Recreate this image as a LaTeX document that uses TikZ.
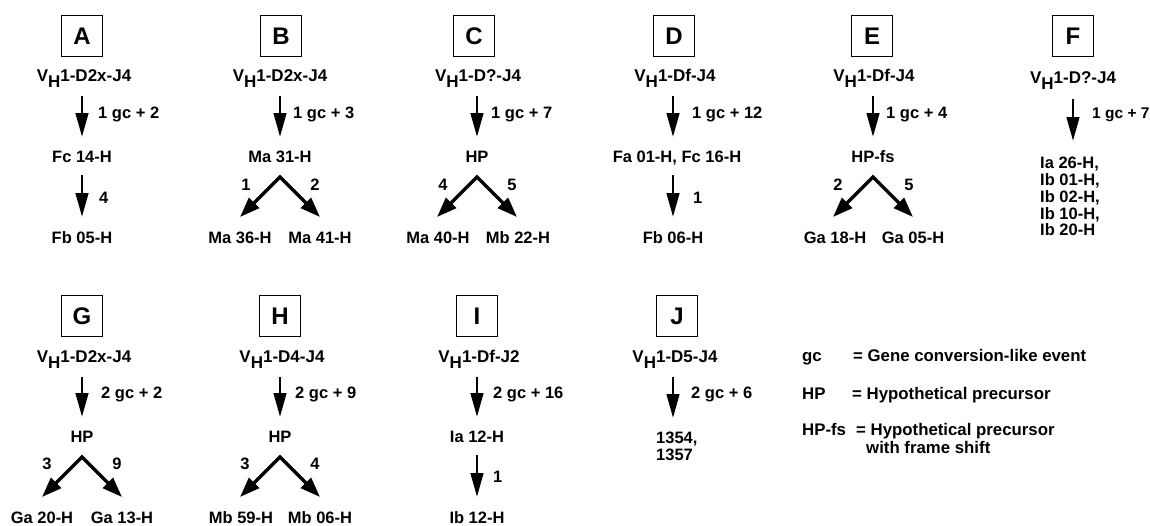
\documentclass[tikz,border=0pt]{standalone}
\usepackage{fontspec}
\setmainfont{Liberation Sans}
\usetikzlibrary{arrows.meta,calc}

% V_H gene segment label: V with a lowered H
\newcommand\vhgene[1]{{\fontsize{17}{19}\selectfont V\raisebox{-6pt}{H}#1}}

\tikzset{
  x=1pt, y=-1pt,
  txt/.style={inner sep=0pt, font=\bfseries\fontsize{16.5}{18}\selectfont,
              text height=11.5pt, text depth=0pt},
  lbl/.style={txt, anchor=west},
  num/.style={txt},
  key/.style={lbl, font=\bfseries\fontsize{16.8}{18}\selectfont},
  letterbox/.style={draw, line width=1.2pt, minimum width=41pt, minimum height=41pt,
                    inner sep=0pt, font=\bfseries\fontsize{24}{28}\selectfont},
  varrow/.style={line width=2.9pt, -{Triangle[length=24pt,width=12.5pt]}},
  varrowA/.style={varrow, shorten <=20pt, shorten >=20pt},
  varrowB/.style={varrow, shorten <=18pt, shorten >=21pt},
  split/.style={line width=3.4pt, line join=miter,
                {Triangle[length=20pt,width=14pt]}-{Triangle[length=20pt,width=14pt]}},
}

\begin{document}
\begin{tikzpicture}
\useasboundingbox (0,0) rectangle (1150,525);

% ---------------- A ----------------
\node[letterbox] (A) at (82,36) {A};
\node[txt] (a0) at (84,76) {\vhgene{1-D2x-J4}};
\node[txt] (a1) at (82,157) {Fc 14-H};
\node[txt] (a2) at (82,238) {Fb 05-H};
\draw[varrowA] (a1 |- a0) -- (a1.center);
\draw[varrowB] (a1.center) -- (a2.center);
\node[lbl] (a0l) at (98,113) {1 gc + 2};
\node[lbl] (a1l) at (99,198) {4};

% ---------------- B ----------------
\node[letterbox] (B) at (281,36) {B};
\node[txt] (b0) at (280,76) {\vhgene{1-D2x-J4}};
\node[txt] (b1) at (280,157) {Ma 31-H};
\draw[varrowA] (b0.center) -- (b1.center);
\node[lbl] (b0l) at (293,113) {1 gc + 3};
\coordinate (bA) at (280,177);
\coordinate (bL) at (240,217);
\coordinate (bR) at (320,217);
\draw[split] (bL) -- (bA) -- (bR);
\node[num] (bLl) at (246,185) {1};
\node[num] (bRl) at (315,185) {2};
\node[txt] (b2) at (240,238) {Ma 36-H};
\node[txt] (b3) at (320,238) {Ma 41-H};

% ---------------- C ----------------
\node[letterbox] (C) at (474,36) {C};
\node[txt] (c0) at (478,76) {\vhgene{1-D?-J4}};
\node[txt] (c1) at (477,157) {HP};
\draw[varrowA] (c1 |- c0) -- (c1.center);
\node[lbl] (c0l) at (491,113) {1 gc + 7};
\coordinate (cA) at (477,177);
\coordinate (cL) at (437,217);
\coordinate (cR) at (517,217);
\draw[split] (cL) -- (cA) -- (cR);
\node[num] (cLl) at (443,185) {4};
\node[num] (cRl) at (512,185) {5};
\node[txt] (c2) at (438,238) {Ma 40-H};
\node[txt] (c3) at (518,238) {Mb 22-H};

% ---------------- D ----------------
\node[letterbox] (D) at (674,36) {D};
\node[txt] (d0) at (675,76) {\vhgene{1-Df-J4}};
\node[txt] (d1) at (677,157) {Fa 01-H, Fc 16-H};
\node[txt] (d2) at (673,238) {Fb 06-H};
\draw[varrowA] (d2 |- d0) -- (d2 |- d1);
\draw[varrowB] (d2 |- d1) -- (d2.center);
\node[lbl] (d0l) at (692,113) {1 gc + 12};
\node[lbl] (d1l) at (693,198) {1};

% ---------------- E ----------------
\node[letterbox] (E) at (872,36) {E};
\node[txt] (e0) at (874,76) {\vhgene{1-Df-J4}};
\node[txt] (e1) at (873,157) {HP-fs};
\draw[varrowA] (e1 |- e0) -- (e1.center);
\node[lbl] (e0l) at (886,113) {1 gc + 4};
\coordinate (eA) at (873,177);
\coordinate (eL) at (833,217);
\coordinate (eR) at (913,217);
\draw[split] (eL) -- (eA) -- (eR);
\node[num] (eLl) at (838,185) {2};
\node[num] (eRl) at (909,185) {5};
\node[txt] (e2) at (835,238) {Ga 18-H};
\node[txt] (e3) at (913,238) {Ga 05-H};

% ---------------- F ----------------
\node[letterbox] (F) at (1073,36) {F};
\node[txt] (f0) at (1073,78) {\vhgene{1-D?-J4}};
\node[lbl] (f1) at (1040,163) {Ia 26-H,};
\node[lbl] (f2) at (1040,179.75) {Ib 01-H,};
\node[lbl] (f3) at (1040,196.5) {Ib 02-H,};
\node[lbl] (f4) at (1040,213.25) {Ib 10-H,};
\node[lbl] (f5) at (1040,230) {Ib 20-H};
\draw[varrow, shorten <=21pt, shorten >=22pt] (f0.center) -- (f0 |- f1);
\node[lbl, font=\bfseries\fontsize{15.5}{18}\selectfont] (f0l) at (1092,113) {1 gc + 7};

% ---------------- G ----------------
\node[letterbox] (G) at (82,316) {G};
\node[txt] (g0) at (84,357) {\vhgene{1-D2x-J4}};
\node[txt] (g1) at (82,437) {HP};
\draw[varrowA] (g1 |- g0) -- (g1.center);
\node[lbl] (g0l) at (101,393) {2 gc + 2};
\coordinate (gA) at (82,457);
\coordinate (gL) at (42,497);
\coordinate (gR) at (122,497);
\draw[split] (gL) -- (gA) -- (gR);
\node[num] (gLl) at (47,464) {3};
\node[num] (gRl) at (117,464) {9};
\node[txt] (g2) at (42,518) {Ga 20-H};
\node[txt] (g3) at (122,518) {Ga 13-H};

% ---------------- H ----------------
\node[letterbox] (H) at (280,316) {H};
\node[txt] (h0) at (282,357) {\vhgene{1-D4-J4}};
\node[txt] (h1) at (280,437) {HP};
\draw[varrowA] (h1 |- h0) -- (h1.center);
\node[lbl] (h0l) at (295,393) {2 gc + 9};
\coordinate (hA) at (280,457);
\coordinate (hL) at (240,497);
\coordinate (hR) at (320,497);
\draw[split] (hL) -- (hA) -- (hR);
\node[num] (hLl) at (245,464) {3};
\node[num] (hRl) at (315,464) {4};
\node[txt] (h2) at (241,518) {Mb 59-H};
\node[txt] (h3) at (320,518) {Mb 06-H};

% ---------------- I ----------------
\node[letterbox] (I) at (477,316) {I};
\node[txt] (i0) at (479,357) {\vhgene{1-Df-J2}};
\node[txt] (i1) at (477,437) {Ia 12-H};
\node[txt] (i2) at (477,518) {Ib 12-H};
\draw[varrowA] (i1 |- i0) -- (i1.center);
\draw[varrowB] (i1.center) -- (i2.center);
\node[lbl] (i0l) at (493,393) {2 gc + 16};
\node[lbl] (i1l) at (493,477) {1};

% ---------------- J ----------------
\node[letterbox] (J) at (677,316) {J};
\node[txt] (j0) at (675,357) {\vhgene{1-D5-J4}};
\node[lbl] (j1) at (656,438) {1354,};
\node[lbl] (j2) at (656,455) {1357};
\coordinate (jT) at (673,438);
\draw[varrowA] (jT |- j0) -- (jT);
\node[lbl] (j0l) at (691,393) {2 gc + 6};

% ---------------- legend ----------------
\node[key] (k1) at (802,356) {gc};
\node[key] (k1t) at (853,356) {= Gene conversion-like event};
\node[key] (k2) at (802,393.5) {HP};
\node[key] (k2t) at (852,393.5) {= Hypothetical precursor};
\node[key] (k3) at (802,430) {HP-fs};
\node[key] (k3t) at (856,430) {= Hypothetical precursor};
\node[key] (k3u) at (866,447.5) {with frame shift};
\end{tikzpicture}
\end{document}
